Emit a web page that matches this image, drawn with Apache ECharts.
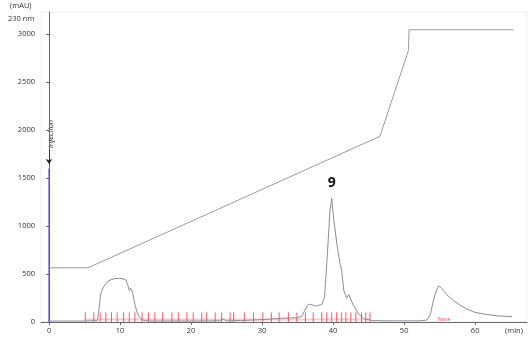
<!DOCTYPE html>
<html>
<head>
<meta charset="utf-8">
<script src="https://cdn.jsdelivr.net/npm/echarts@6/dist/echarts.min.js"></script>
<style>html,body{margin:0;padding:0;background:#fff}#c{width:531px;height:350px}</style>
</head>
<body>
<div id="c"></div>
<script>
// Gradient (program line)
const gradT = [0, 5.5, 46.6, 50.6, 50.7, 65.4];
const gradV = [565, 565, 1935, 2830, 3045, 3045];

// Chromatogram (230 nm)
const chromT = [0, 5, 6.8, 7.0, 7.3, 7.7, 8.2, 8.7, 9.3, 9.9, 10.4, 10.8, 11.1, 11.3, 11.5, 11.8, 12.1, 12.4, 12.7, 13.1, 13.6, 15, 20, 24, 24.5, 25, 27, 30, 33, 35, 35.6, 36.0, 36.4, 36.8, 37.2, 37.6, 38.0, 38.4, 38.8, 39.2, 39.55, 39.8, 40.1, 40.6, 41.0, 41.2, 41.5, 41.9, 42.2, 42.4, 42.7, 43.1, 43.6, 44.3, 45.5, 48, 52, 53.2, 53.7, 54.2, 54.6, 54.9, 55.2, 55.6, 56.2, 57, 58, 59, 60, 61.5, 63, 65.2];
const chromV = [10, 10, 15, 120, 300, 370, 420, 440, 452, 455, 450, 440, 380, 330, 355, 300, 180, 100, 55, 25, 12, 10, 10, 12, 30, 12, 15, 25, 40, 45, 60, 120, 175, 185, 175, 165, 175, 180, 260, 720, 1150, 1290, 1060, 780, 600, 540, 330, 250, 285, 250, 200, 145, 80, 35, 15, 12, 12, 20, 80, 250, 340, 375, 360, 320, 270, 220, 170, 130, 100, 80, 65, 55];

// Fraction boundaries (min)
const fractions = [5.1, 6.3, 7.2, 8.0, 8.8, 9.6, 10.5, 11.3, 12.1, 13.1, 14.0, 14.9, 16.0, 17.3, 18.2, 19.4, 20.3, 21.5, 22.2, 23.4, 24.3, 25.5, 26.0, 27.5, 28.8, 30.1, 31.3, 32.4, 33.7, 34.9, 36.1, 37.2, 38.4, 39.1, 39.8, 40.5, 41.2, 41.8, 42.5, 43.2, 44.0, 44.6, 45.2];
const fractionHeight = 100;

const injectionTime = 0;
const injectionHeight = 1600;
const peakLabel = { t: 39.8, v: 1290, text: '9' };
const wasteLabel = { t: 55.6, v: 22, text: 'Waste' };

const xTicks = [0, 10, 20, 30, 40, 50, 60];
const yTicks = [0, 500, 1000, 1500, 2000, 2500, 3000];

const FONT = 'Open Sans';
const chart = echarts.init(document.getElementById('c'), null, { renderer: 'canvas' });

const fracData = [];
fractions.forEach(t => { fracData.push([t, 0]); fracData.push([t, fractionHeight]); fracData.push([t, '-']); });

chart.setOption({
  animation: false,
  backgroundColor: '#fff',
  grid: { left: 41, right: 4, top: 12, bottom: 28, show: true, borderColor: '#eeeeee', borderWidth: 1 },
  xAxis: {
    type: 'value', min: -1.13, max: 67.3,
    axisLine: { show: true, lineStyle: { color: '#666', width: 1 } },
    axisTick: { show: true, customValues: xTicks, length: 3, lineStyle: { color: '#666' } },
    axisLabel: { customValues: xTicks, formatter: v => String(v), fontSize: 7.5, color: '#333', fontFamily: FONT, margin: 5 },
    splitLine: { show: false }
  },
  yAxis: {
    type: 'value', min: 0, max: 3230,
    axisLine: { show: true, lineStyle: { color: '#666', width: 1 } },
    axisTick: { show: true, customValues: yTicks, length: 3, lineStyle: { color: '#666' } },
    axisLabel: { customValues: yTicks, formatter: v => String(v), fontSize: 7.5, color: '#333', fontFamily: FONT, margin: 6 },
    splitLine: { show: false }
  },
  series: [
    {
      name: 'fractions', type: 'line', data: fracData, symbol: 'none', connectNulls: false,
      lineStyle: { color: '#ff3a4e', width: 1, opacity: 0.85 }, z: 2,
      markPoint: {
        symbol: 'circle', symbolSize: 0,
        data: [{ coord: [wasteLabel.t, wasteLabel.v], value: wasteLabel.text }],
        label: { show: true, formatter: wasteLabel.text, fontSize: 4.5, color: '#ff4d5e', fontFamily: FONT }
      }
    },
    {
      name: 'fractionband', type: 'line', symbol: 'none',
      data: [[fractions[0], 25], [fractions[fractions.length - 1], 25]],
      lineStyle: { color: '#ff9aa4', width: 2, opacity: 0.5 }, z: 1
    },
    {
      name: 'gradient', type: 'line', data: gradT.map((t, i) => [t, gradV[i]]), symbol: 'none',
      lineStyle: { color: '#9a9aa0', width: 1 }, z: 3
    },
    {
      name: 'chrom', type: 'line', data: chromT.map((t, i) => [t, chromV[i]]), symbol: 'none',
      lineStyle: { color: '#8c8c98', width: 1 }, z: 4,
      markPoint: {
        symbol: 'circle', symbolSize: 0,
        data: [{ coord: [peakLabel.t, peakLabel.v] }],
        label: { show: true, formatter: peakLabel.text, position: 'top', distance: 8, fontSize: 14, fontWeight: 'bold', color: '#111', fontFamily: FONT }
      }
    },
    {
      name: 'injection', type: 'line', data: [[injectionTime, 0], [injectionTime, injectionHeight]], symbol: 'none',
      lineStyle: { color: '#4a4ae8', width: 1.2 }, z: 5,
      markLine: {
        silent: true, symbol: ['none', 'arrow'], symbolSize: 5,
        lineStyle: { color: '#222', width: 0.8, type: 'solid' },
        label: { show: false },
        data: [[{ coord: [injectionTime, 1790] }, { coord: [injectionTime, 1645] }]]
      }
    }
  ]
});

const p = chart.convertToPixel({ gridIndex: 0 }, [injectionTime, 1960]);
chart.setOption({
  graphic: [
    { type: 'text', x: p[0] + 2, y: p[1], rotation: Math.PI / 2,
      style: { text: 'injection', fontSize: 7.5, fontStyle: 'italic', fontFamily: FONT, fill: '#222', align: 'center', verticalAlign: 'middle' } },
    { type: 'text', left: 10, top: 2, style: { text: '(mAU)', fontSize: 7.5, fontFamily: FONT, fill: '#333' } },
    { type: 'text', left: 8, top: 15, style: { text: '230 nm', fontSize: 7.5, fontFamily: FONT, fill: '#333' } },
    { type: 'text', left: 505, top: 327, style: { text: '(min)', fontSize: 7.5, fontFamily: FONT, fill: '#333' } }
  ]
});
</script>
</body>
</html>
